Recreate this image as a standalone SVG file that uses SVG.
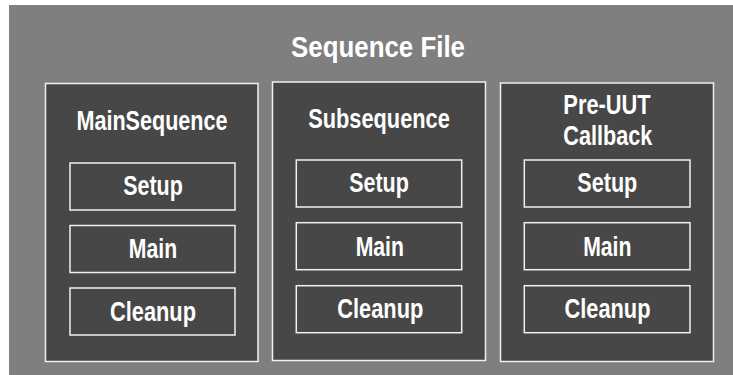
<svg xmlns="http://www.w3.org/2000/svg" width="733" height="375" viewBox="0 0 733 375">
  <style>
    .bg { fill: #7f7f7f; }
    .seq { fill: #474747; stroke: #f0f0f0; stroke-width: 1.5; }
    .step { fill: #474747; stroke: #f0f0f0; stroke-width: 1.5; }
    text { font-family: "Liberation Sans", Arial, sans-serif; font-weight: bold; fill: #ffffff; text-anchor: middle; }
    .title { font-size: 30px; }
    .label { font-size: 27px; }
  </style>
  <rect width="733" height="375" fill="#ffffff"/>
  <rect class="bg" x="9" y="5" width="724" height="370"/>
  <text class="title" x="378" y="57" textLength="174" lengthAdjust="spacingAndGlyphs">Sequence File</text>

  <g id="main-sequence">
    <rect class="seq" x="45.5" y="83.5" width="212.5" height="278"/>
    <text class="label" x="152" y="129.5" textLength="151" lengthAdjust="spacingAndGlyphs">MainSequence</text>
    <g id="main-setup">
      <rect class="step" x="70" y="163" width="165" height="47"/>
      <text class="label" x="153" y="194.5" textLength="59.5" lengthAdjust="spacingAndGlyphs">Setup</text>
    </g>
    <g id="main-main">
      <rect class="step" x="70" y="225.5" width="165" height="47"/>
      <text class="label" x="153" y="258.3" textLength="48.3" lengthAdjust="spacingAndGlyphs">Main</text>
    </g>
    <g id="main-cleanup">
      <rect class="step" x="70" y="288" width="165" height="47"/>
      <text class="label" x="153" y="320.6" textLength="86" lengthAdjust="spacingAndGlyphs">Cleanup</text>
    </g>
  </g>

  <g id="subsequence">
    <rect class="seq" x="272.5" y="82" width="213" height="278.5"/>
    <text class="label" x="379" y="128.3" textLength="141.7" lengthAdjust="spacingAndGlyphs">Subsequence</text>
    <g id="sub-setup">
      <rect class="step" x="296.3" y="160" width="165.4" height="47"/>
      <text class="label" x="379" y="191.7" textLength="59.7" lengthAdjust="spacingAndGlyphs">Setup</text>
    </g>
    <g id="sub-main">
      <rect class="step" x="296.3" y="222.7" width="165.4" height="47"/>
      <text class="label" x="379.8" y="255.7" textLength="48.3" lengthAdjust="spacingAndGlyphs">Main</text>
    </g>
    <g id="sub-cleanup">
      <rect class="step" x="296.3" y="285.7" width="165.4" height="47"/>
      <text class="label" x="380.3" y="318.3" textLength="86" lengthAdjust="spacingAndGlyphs">Cleanup</text>
    </g>
  </g>

  <g id="pre-uut-callback">
    <rect class="seq" x="500.5" y="83" width="213" height="278.5"/>
    <text class="label" x="607" y="114.3" textLength="87.3" lengthAdjust="spacingAndGlyphs">Pre-UUT</text>
    <text class="label" x="607.8" y="145" textLength="89" lengthAdjust="spacingAndGlyphs">Callback</text>
    <g id="cb-setup">
      <rect class="step" x="524.3" y="160" width="165.7" height="47"/>
      <text class="label" x="607.3" y="191.7" textLength="60" lengthAdjust="spacingAndGlyphs">Setup</text>
    </g>
    <g id="cb-main">
      <rect class="step" x="524.3" y="222.7" width="165.7" height="47"/>
      <text class="label" x="607.3" y="255.7" textLength="48.3" lengthAdjust="spacingAndGlyphs">Main</text>
    </g>
    <g id="cb-cleanup">
      <rect class="step" x="524.3" y="285.7" width="165.7" height="47"/>
      <text class="label" x="607.5" y="318.3" textLength="86" lengthAdjust="spacingAndGlyphs">Cleanup</text>
    </g>
  </g>
</svg>
